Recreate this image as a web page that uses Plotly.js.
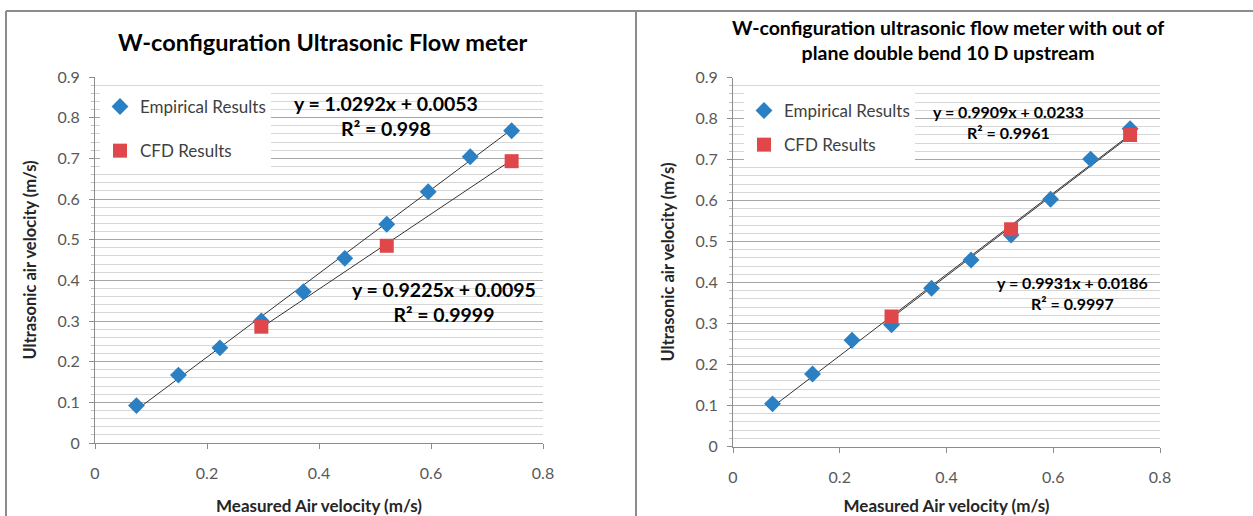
<!DOCTYPE html>
<html>
<head>
<meta charset="utf-8">
<script src="https://cdn.plot.ly/plotly-3.0.1.min.js"></script>
<style>
html,body{margin:0;padding:0;background:#fff;}
#chart{width:1253px;height:516px;}
</style>
</head>
<body>
<div id="chart"></div>
<script>
// ---- Data ----
const measuredVel = [0.074, 0.149, 0.223, 0.297, 0.372, 0.446, 0.521, 0.595, 0.670, 0.744];
const empiricalLeft = [0.092, 0.167, 0.234, 0.300, 0.372, 0.454, 0.538, 0.618, 0.704, 0.768];
const cfdX = [0.297, 0.521, 0.744];
const cfdLeft = [0.286, 0.485, 0.693];

const empiricalRight = [0.104, 0.177, 0.259, 0.297, 0.386, 0.455, 0.516, 0.603, 0.701, 0.775];
const cfdRight = [0.317, 0.530, 0.760];

// trendline coefficients [slope, intercept] and R²
const fitEmpLeft = [1.0292, 0.0053]; const r2EmpLeft = "0.998";
const fitCfdLeft = [0.9225, 0.0095]; const r2CfdLeft = "0.9999";
const fitEmpRight = [0.9909, 0.0233]; const r2EmpRight = "0.9961";
const fitCfdRight = [0.9931, 0.0186]; const r2CfdRight = "0.9997";

const titleLeft = "W-configuration Ultrasonic Flow meter";
const titleRight = "W-configuration ultrasonic flow meter with out of<br>plane double bend 10 D upstream";
const xTitle = "Measured Air velocity (m/s)";
const yTitle = "Ultrasonic air velocity (m/s)";
const nameEmp = "Empirical Results";
const nameCfd = "CFD Results";

// ---- Styling ----
const W = 1253, H = 516;
const FONT = "Lato, 'Open Sans', sans-serif";
const BLUE = "#2b80c4";
const RED = "#e0474a";

function px(x){ return x / W; }
function py(y){ return 1 - y / H; }

function fitLine(xs, fit, xa, ya){
  const x0 = Math.min(...xs), x1 = Math.max(...xs);
  return {
    x: [x0, x1], y: [fit[0]*x0 + fit[1], fit[0]*x1 + fit[1]],
    mode: "lines", line: {color: "#333", width: 1},
    showlegend: false, hoverinfo: "skip", xaxis: xa, yaxis: ya
  };
}
function eqText(fit){
  return "y = " + fit[0].toFixed(4) + "x + " + fit[1].toFixed(4);
}

const traces = [
  fitLine(measuredVel, fitEmpLeft, "x", "y"),
  fitLine(cfdX, fitCfdLeft, "x", "y"),
  fitLine(measuredVel, fitEmpRight, "x2", "y2"),
  fitLine(cfdX, fitCfdRight, "x2", "y2"),
  {x: measuredVel, y: empiricalLeft, mode: "markers", name: nameEmp, xaxis: "x", yaxis: "y",
   marker: {symbol: "diamond", size: 13, color: BLUE}, legend: "legend", legendgroup: "a"},
  {x: cfdX, y: cfdLeft, mode: "markers", name: nameCfd, xaxis: "x", yaxis: "y",
   marker: {symbol: "square", size: 14, color: RED}, legend: "legend", legendgroup: "b"},
  {x: measuredVel, y: empiricalRight, mode: "markers", name: nameEmp, xaxis: "x2", yaxis: "y2",
   marker: {symbol: "diamond", size: 13, color: BLUE}, legend: "legend2", legendgroup: "c"},
  {x: cfdX, y: cfdRight, mode: "markers", name: nameCfd, xaxis: "x2", yaxis: "y2",
   marker: {symbol: "square", size: 14, color: RED}, legend: "legend2", legendgroup: "d"}
];

function xAxis(d){
  return {
    domain: d, range: [0, 0.8], dtick: 0.2, tick0: 0, showgrid: false, zeroline: false,
    showline: true, linecolor: "#8c8c8c", linewidth: 1, ticks: "outside", ticklen: 5, tickcolor: "#8c8c8c",
    tickfont: {family: FONT, size: 16, color: "#595959"}, ticklabelstandoff: 11,
    title: {text: "<b>" + xTitle + "</b>", font: {family: FONT, size: 17, color: "#262626"}, standoff: 24}
  };
}
function yAxis(d, anchor){
  return {
    domain: d, range: [0, 0.9], dtick: 0.1, tick0: 0, showgrid: true, gridcolor: "#a6a6a6", gridwidth: 1,
    zeroline: false, showline: true, linecolor: "#8c8c8c", linewidth: 1,
    ticks: "outside", ticklen: 5, tickcolor: "#8c8c8c", anchor: anchor,
    tickformat: ".1~f", ticklabelstandoff: 6,
    tickfont: {family: FONT, size: 16, color: "#595959"},
    minor: {dtick: 0.02, showgrid: true, gridcolor: "#d6d6d6", gridwidth: 1, ticks: "outside", ticklen: 3, tickcolor: "#bfbfbf"},
    title: {text: "<b>" + yTitle + "</b>", font: {family: FONT, size: 16.5, color: "#262626"}, standoff: 16}
  };
}

const legendCommon = {
  bgcolor: "#ffffff", borderwidth: 0, font: {family: FONT, size: 17, color: "#404040"},
  xanchor: "left", yanchor: "top", traceorder: "grouped", itemclick: false
};

function ann(text, x, y, size){
  return {text: text, xref: "paper", yref: "paper", x: px(x), y: py(y), xanchor: "center", yanchor: "middle",
          showarrow: false, font: {family: FONT, size: size, color: "#000"}};
}

const layout = {
  width: W, height: H, margin: {l: 0, r: 0, t: 0, b: 0},
  paper_bgcolor: "#fff", plot_bgcolor: "#fff", showlegend: true,
  font: {family: FONT},
  xaxis: Object.assign(xAxis([px(95), px(543)]), {anchor: "y"}),
  yaxis: yAxis([py(443), py(77)], "x"),
  xaxis2: Object.assign(xAxis([px(733), px(1160)]), {anchor: "y2"}),
  yaxis2: yAxis([py(446.5), py(77.5)], "x2"),
  legend: Object.assign({}, legendCommon, {x: px(100), y: py(89), tracegroupgap: 19}),
  legend2: Object.assign({}, legendCommon, {x: px(744), y: py(93), tracegroupgap: 9}),
  annotations: [
    ann("<b>" + titleLeft + "</b>", 323, 42, 23.5),
    ann("<b>" + titleRight + "</b>", 948, 40, 19.5),
    ann("<b>" + eqText(fitEmpLeft) + "<br>R² = " + r2EmpLeft + "</b>", 386, 116, 19.5),
    ann("<b>" + eqText(fitCfdLeft) + "<br>R² = " + r2CfdLeft + "</b>", 444, 302, 19.5),
    ann("<b>" + eqText(fitEmpRight) + "<br>R² = " + r2EmpRight + "</b>", 1008, 122, 16),
    ann("<b>" + eqText(fitCfdRight) + "<br>R² = " + r2CfdRight + "</b>", 1072, 293, 16)
  ],
  shapes: [
    {type: "line", xref: "paper", yref: "paper", x0: px(6), x1: px(1253), y0: py(11), y1: py(11), line: {color: "#8c8c8c", width: 2}},
    {type: "line", xref: "paper", yref: "paper", x0: px(6), x1: px(6), y0: py(11), y1: 0, line: {color: "#8c8c8c", width: 2}},
    {type: "line", xref: "paper", yref: "paper", x0: px(636), x1: px(636), y0: py(11), y1: 0, line: {color: "#8c8c8c", width: 2}}
  ]
};

Plotly.newPlot("chart", traces, layout, {displayModeBar: false, staticPlot: true});
</script>
</body>
</html>
